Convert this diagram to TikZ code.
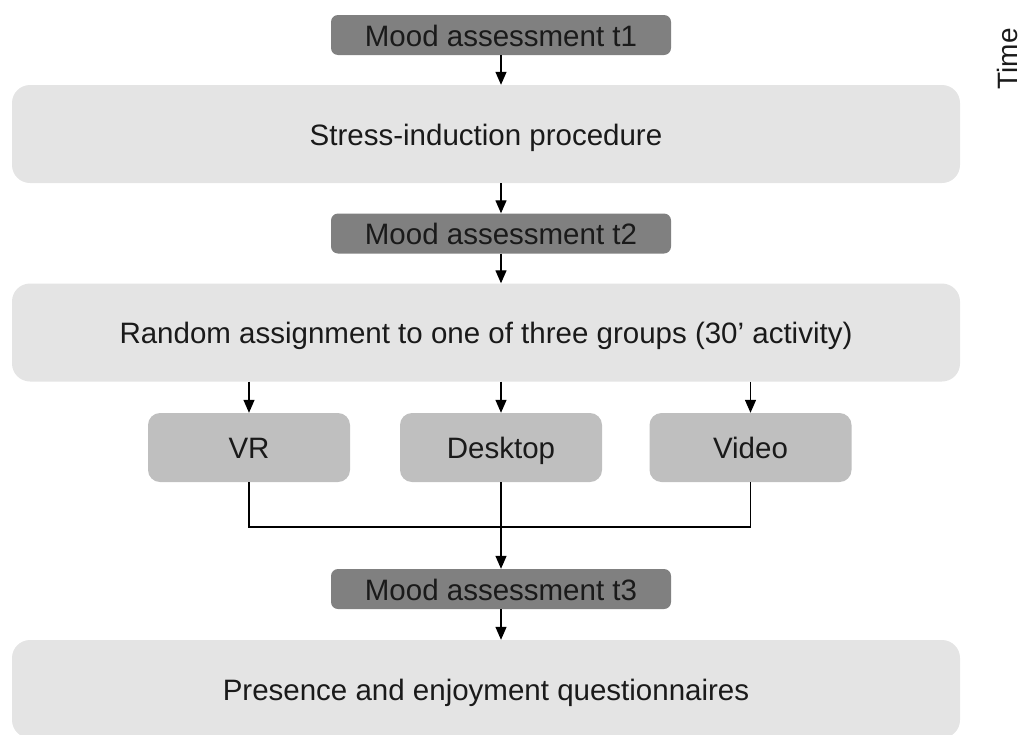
\documentclass[tikz,border=0pt]{standalone}
\usepackage{fontspec}
\setmainfont{Liberation Sans}
\definecolor{moodgray}{HTML}{808080}
\definecolor{groupgray}{HTML}{BFBFBF}
\definecolor{stagegray}{HTML}{E4E4E4}
\definecolor{txtgray}{HTML}{1A1A1A}
\usetikzlibrary{arrows.meta,positioning}

\begin{document}
\begin{tikzpicture}[x=1pt,y=-1pt,
  every node/.style={font=\fontsize{29.5}{34}\selectfont,text=txtgray,inner sep=0pt,text height=25pt,text depth=3pt},
  stage/.style={fill=stagegray,rounded corners=18pt,minimum width=948pt,minimum height=98pt},
  mood/.style={fill=moodgray,rounded corners=7pt,minimum width=340pt,minimum height=40pt},
  group/.style={fill=groupgray,rounded corners=12pt,minimum width=202pt,minimum height=69pt},
  link/.style={line width=1.3pt,-{Triangle[width=11pt,length=13pt]}}]
  \useasboundingbox (0,0) rectangle (1036,734);
  \node[mood] (t1) at (501,35) {Mood assessment t1};
  \node[stage] (stress) at (486,134) {Stress-induction procedure};
  \node[mood] (t2) at (501,233.5) {Mood assessment t2};
  \node[stage] (random) at (486,332.5) {Random assignment to one of three groups (30’ activity)};
  \node[group] (vr) at (249,447.5) {VR};
  \node[group] (desktop) at (501,447.5) {Desktop};
  \node[group] (video) at (750.5,447.5) {Video};
  \coordinate (join) at (501,527);
  \node[mood] (t3) at (501,589) {Mood assessment t3};
  \node[stage] (presence) at (486,689) {Presence and enjoyment questionnaires};
  \node[rotate=90,font=\fontsize{28}{32}\selectfont] (time) at (1006,59) {Time};
  % arrows
  \draw[link] (t1.south) -- (t1.south |- stress.north);
  \draw[link] (t1.south |- stress.south) -- (t2.north);
  \draw[link] (t2.south) -- (t2.south |- random.north);
  \foreach \g in {vr,desktop,video} \draw[link] (\g.north |- random.south) -- (\g.north);
  \draw[line width=1.3pt] (vr.south) -- (vr.south |- join) -- (video.south |- join) -- (video.south);
  \draw[link] (desktop.south) -- (join) -- (t3.north);
  \draw[link] (t3.south) -- (t3.south |- presence.north);
\end{tikzpicture}
\end{document}
